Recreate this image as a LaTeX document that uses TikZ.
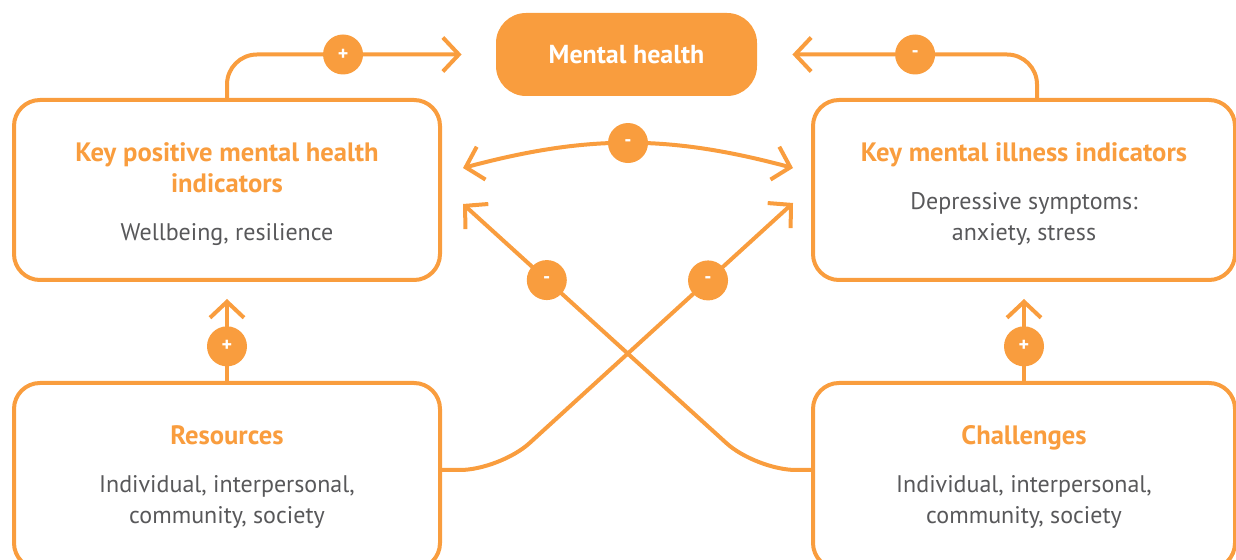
\documentclass[tikz,border=0pt]{standalone}
\usepackage{fontspec}
\setmainfont{PT Sans}
\usetikzlibrary{arrows.meta}
\usetikzlibrary{positioning}
\definecolor{mhorange}{HTML}{F99D3E}
\definecolor{mhgrey}{HTML}{58585A}
\newcommand\hd[1]{{\color{mhorange}\bfseries\fontsize{13.3}{15.5}\selectfont #1}}

\begin{document}
\begin{tikzpicture}[x=0.5pt,y=-0.5pt]
  \tikzset{box/.style={draw=mhorange, line width=2pt, rounded corners=13pt, minimum width=213pt, minimum height=90pt, inner sep=0pt}}
  \tikzset{txt/.style={align=center, text=mhgrey, inner sep=0pt, font=\fontsize{12}{15.5}\selectfont}}
  \tikzset{badge/.style={circle, fill=mhorange, text=white, minimum size=20pt, inner sep=0pt, font=\bfseries\normalsize}}
  \tikzset{link/.style={draw=mhorange, line width=2pt, -{Straight Barb[length=8pt, width=17pt]}}}
  \tikzset{link2/.style={draw=mhorange, line width=2pt, {Straight Barb[length=8pt, width=17pt]}-{Straight Barb[length=8pt, width=17pt]}}}

  \useasboundingbox (0,0) rectangle (1236,560);

  \node[fill=mhorange, rounded corners=15pt, minimum width=130.5pt, minimum height=41.5pt, text=white, font=\bfseries\fontsize{13}{15}\selectfont] (mh) at (626.5,54.5) {Mental health};

  \node[box] (kpos) at (227,190) {};
  \node[box, minimum width=211pt] (kill) at (1024,190) {};
  \node[box, minimum height=93pt] (res) at (227,476) {};
  \node[box, minimum width=211pt, minimum height=93pt] (chal) at (1024,476) {};

  \node[txt] at ([yshift=-1.8pt]kpos.center) {\hd{Key positive mental health}\\ \hd{indicators}\\[8.5pt] Wellbeing, resilience};
  \node[txt] at ([yshift=-1.8pt]kill.center) {\hd{Key mental illness indicators}\\[8.5pt] Depressive symptoms:\\ anxiety, stress};
  \node[txt] at ([yshift=-0.5pt]res.center) {\hd{Resources}\\[8.5pt] Individual, interpersonal,\\ community, society};
  \node[txt] at ([yshift=-0.5pt]chal.center) {\hd{Challenges}\\[8.5pt] Individual, interpersonal,\\ community, society};

  \coordinate (arcL) at (463,168);
  \coordinate (arcR) at (793,168);
  \coordinate (tipL) at (463,204);
  \coordinate (tipR) at (793,203);

  % feedback loops to mental health
  \draw[link, shorten >=17pt, rounded corners=15pt] (kpos.north) |- node[badge, pos=0.716] {+} (mh.west);
  \draw[link, shorten >=17.5pt, rounded corners=15pt] ([xshift=6.5pt]kill.north) |- node[badge, pos=0.718] {-} (mh.east);

  \path (arcL) edge[link2, bend left=15] node[badge] {-} (arcR);

  % crossing lines
  \draw[link, rounded corners=20pt] ([yshift=3pt]res.east) -- ++(58,0) -- node[badge, pos=0.71] {-} (tipR);
  \draw[link, rounded corners=20pt] ([yshift=3pt]chal.west) -- ++(-55,0) -- node[badge, pos=0.714] {-} (tipL);

  \draw[link, shorten >=8.5pt] (res.north) -- node[badge, pos=0.35] {+} (kpos.south);
  \draw[link, shorten >=8.5pt] (chal.north) -- node[badge, pos=0.35] {+} (kill.south);

\end{tikzpicture}
\end{document}
